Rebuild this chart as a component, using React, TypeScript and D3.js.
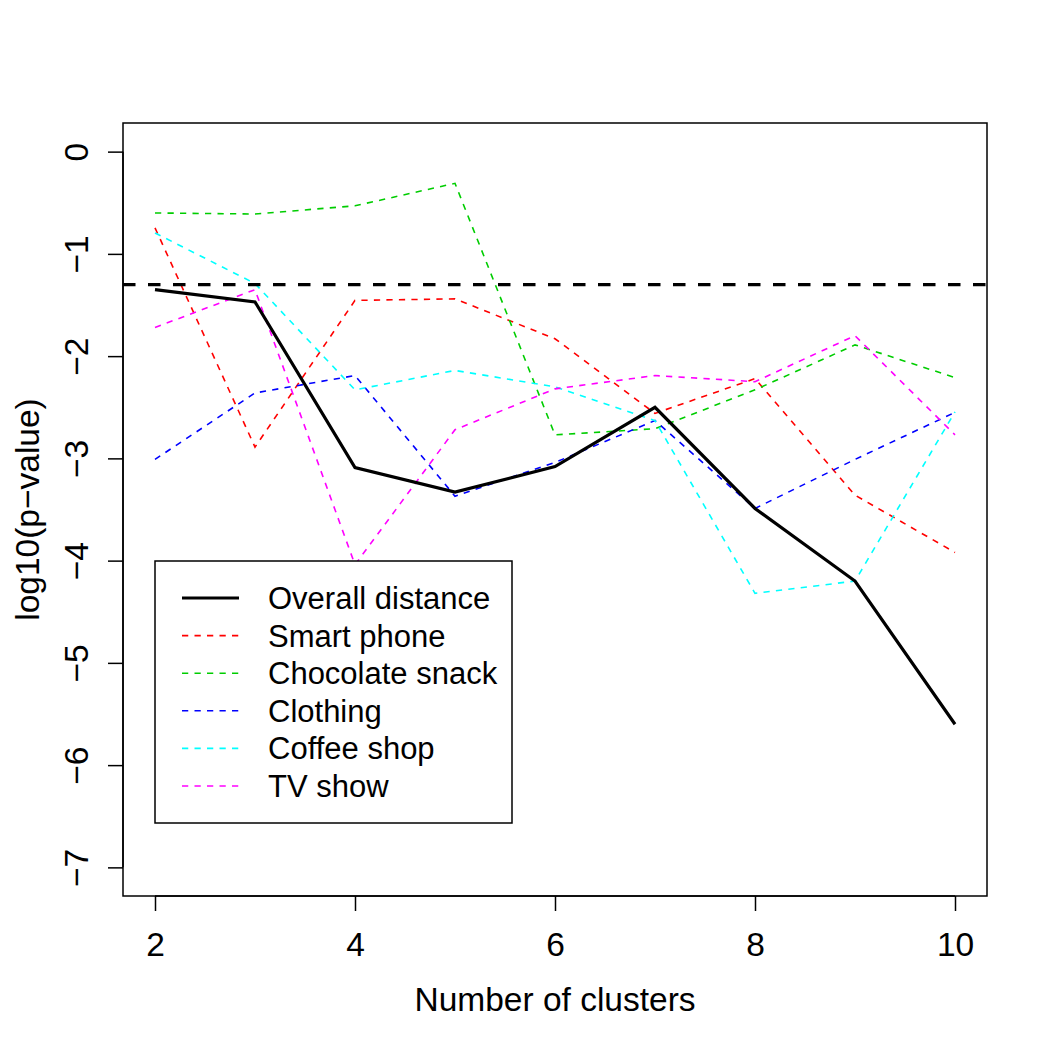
import React, { useEffect, useRef } from "react";
import * as d3 from "d3";

// Number of clusters on the x axis
const clusters = [2, 3, 4, 5, 6, 7, 8, 9, 10];

// log10(p-value) per series
const overallDistance = [-1.35, -1.47, -3.09, -3.33, -3.08, -2.5, -3.49, -4.2, -5.6];
const smartPhone = [-0.745, -2.89, -1.455, -1.44, -1.83, -2.56, -2.22, -3.36, -3.92];
const chocolateSnack = [-0.6, -0.61, -0.53, -0.31, -2.77, -2.71, -2.33, -1.89, -2.21];
const clothing = [-3.01, -2.36, -2.19, -3.37, -3.04, -2.63, -3.49, -3.01, -2.55];
const coffeeShop = [-0.795, -1.29, -2.33, -2.14, -2.3, -2.63, -4.32, -4.2, -2.545];
const tvShow = [-1.72, -1.35, -4.04, -2.72, -2.32, -2.19, -2.25, -1.8, -2.77];

const seriesNames = [
  "Overall distance",
  "Smart phone",
  "Chocolate snack",
  "Clothing",
  "Coffee shop",
  "TV show",
];
const seriesColors = ["#000000", "#FF0000", "#00CD00", "#0000FF", "#00FFFF", "#FF00FF"];

const xTicks = [2, 4, 6, 8, 10];
const yTicks = [0, -1, -2, -3, -4, -5, -6, -7];
const significance = Math.log10(0.05);

const W = 1050;
const H = 1050;
const FONT = "'Liberation Sans', Arial, Helvetica, sans-serif";
const AXIS_FS = 33.5;
const LEGEND_FS = 31;

export default function App() {
  const ref = useRef<SVGSVGElement | null>(null);

  useEffect(() => {
    document.body.style.margin = "0";
    const svg = d3.select(ref.current);
    svg.selectAll("*").remove();

    const left = 123, right = 987, top = 123, bottom = 896;
    const x = d3.scaleLinear().domain([1.68, 10.32]).range([left, right]);
    const y = d3.scaleLinear().domain([-7.28, 0.28]).range([bottom, top]);

    svg.append("rect").attr("width", W).attr("height", H).attr("fill", "#ffffff");

    const clipId = "plot-clip";
    svg
      .append("clipPath")
      .attr("id", clipId)
      .append("rect")
      .attr("x", left)
      .attr("y", top)
      .attr("width", right - left)
      .attr("height", bottom - top);

    const series = [overallDistance, smartPhone, chocolateSnack, clothing, coffeeShop, tvShow];
    const line = d3
      .line<number>()
      .x((_, i) => x(clusters[i]))
      .y((d) => y(d));

    const plot = svg.append("g").attr("clip-path", `url(#${clipId})`);

    // category series drawn dashed, overall drawn solid on top
    series.forEach((vals, k) => {
      if (k === 0) return;
      plot
        .append("path")
        .attr("d", line(vals))
        .attr("fill", "none")
        .attr("stroke", seriesColors[k])
        .attr("stroke-width", 1.6)
        .attr("stroke-dasharray", "6.25 6.25");
    });
    plot
      .append("path")
      .attr("d", line(overallDistance))
      .attr("fill", "none")
      .attr("stroke", seriesColors[0])
      .attr("stroke-width", 3.2)
      .attr("stroke-linejoin", "miter");

    // p = 0.05 reference line
    plot
      .append("line")
      .attr("x1", left)
      .attr("x2", right)
      .attr("y1", y(significance))
      .attr("y2", y(significance))
      .attr("stroke", "#000")
      .attr("stroke-width", 3.2)
      .attr("stroke-dasharray", "12.5 12.5");

    // box
    svg
      .append("rect")
      .attr("x", left)
      .attr("y", top)
      .attr("width", right - left)
      .attr("height", bottom - top)
      .attr("fill", "none")
      .attr("stroke", "#000")
      .attr("stroke-width", 1.5);

    // x axis
    const xAxis = d3
      .axisBottom(x)
      .tickValues(xTicks)
      .tickSize(15)
      .tickPadding(0)
      .tickFormat((d) => String(d));
    const gx = svg.append("g").attr("transform", `translate(0,${bottom})`).call(xAxis);
    gx.select(".domain")
      .attr("d", `M${x(2)},0H${x(10)}`)
      .attr("stroke", "#000")
      .attr("stroke-width", 1.5);
    gx.selectAll(".tick line").attr("stroke", "#000").attr("stroke-width", 1.5);
    gx.selectAll(".tick text")
      .attr("y", 60)
      .attr("dy", null)
      .attr("fill", "#000")
      .style("font-family", FONT)
      .style("font-size", `${AXIS_FS}px`);

    // y axis
    const yAxis = d3
      .axisLeft(y)
      .tickValues(yTicks)
      .tickSize(15)
      .tickFormat((d) => String(d).replace("-", "\u2212"));
    const gy = svg.append("g").attr("transform", `translate(${left},0)`).call(yAxis);
    gy.select(".domain")
      .attr("d", `M0,${y(0)}V${y(-7)}`)
      .attr("stroke", "#000")
      .attr("stroke-width", 1.5);
    gy.selectAll(".tick line").attr("stroke", "#000").attr("stroke-width", 1.5);
    gy.selectAll(".tick text")
      .attr("x", null)
      .attr("dy", null)
      .attr("transform", "translate(-35,0) rotate(-90)")
      .attr("text-anchor", "middle")
      .attr("fill", "#000")
      .style("font-family", FONT)
      .style("font-size", `${AXIS_FS}px`);

    // axis titles
    svg
      .append("text")
      .attr("x", (left + right) / 2)
      .attr("y", 1011)
      .attr("text-anchor", "middle")
      .style("font-family", FONT)
      .style("font-size", `${AXIS_FS}px`)
      .text("Number of clusters");
    svg
      .append("text")
      .attr("transform", `translate(39,${(top + bottom) / 2}) rotate(-90)`)
      .attr("text-anchor", "middle")
      .style("font-family", FONT)
      .style("font-size", `${AXIS_FS}px`)
      .text("log10(p\u2212value)");

    // legend
    const lg = svg.append("g");
    lg.append("rect")
      .attr("x", 155)
      .attr("y", 561)
      .attr("width", 357)
      .attr("height", 262)
      .attr("fill", "#fff")
      .attr("stroke", "#000")
      .attr("stroke-width", 1.5);
    seriesNames.forEach((name, k) => {
      const cy = 598 + k * 37.6;
      lg.append("line")
        .attr("x1", 182)
        .attr("x2", 239)
        .attr("y1", cy)
        .attr("y2", cy)
        .attr("stroke", seriesColors[k])
        .attr("stroke-width", k === 0 ? 3.2 : 1.6)
        .attr("stroke-dasharray", k === 0 ? null : "6.25 6.25");
      lg.append("text")
        .attr("x", 268)
        .attr("y", cy + 11)
        .style("font-family", FONT)
        .style("font-size", `${LEGEND_FS}px`)
        .text(name);
    });
  }, []);

  return <svg ref={ref} width={W} height={H} style={{ display: "block" }} />;
}
